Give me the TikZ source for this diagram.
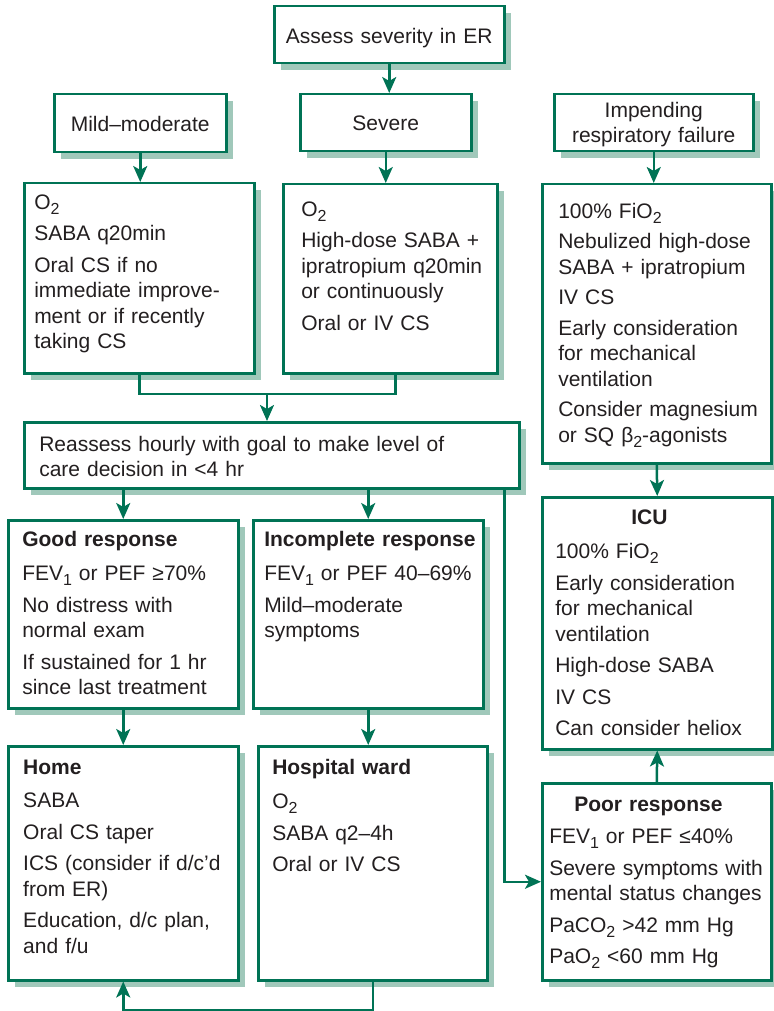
\documentclass[tikz,border=0pt]{standalone}
\usepackage{fontspec}
\setmainfont{Liberation Sans}
\usetikzlibrary{arrows.meta,shadows}

\definecolor{fgreen}{RGB}{0,115,85}
\definecolor{shgreen}{RGB}{160,200,186}
\definecolor{ink}{RGB}{35,31,32}

\newcommand{\lowsub}[1]{\raisebox{-5pt}{\fontsize{16}{16}\selectfont #1}}

\tikzset{
  box/.style={draw=fgreen, line width=2.5pt, fill=white, anchor=north west,
    inner sep=0pt, text=ink, font=\fontsize{21}{25.5}\selectfont,
    general shadow={fill=shgreen, shadow xshift=7pt, shadow yshift=-7pt}},
  headbox/.style={box, align=center},
  stepsbox/.style={box, align=left},
  boxdim/.style n args={3}{text width=#1pt, text height=#2pt, text depth=#3pt},
  wire/.style={draw=fgreen, line width=2.5pt},
  arr/.style={wire, -{Stealth[length=16pt, width=14pt, inset=4pt]}}
}

\begin{document}
\begin{tikzpicture}[x=1pt, y=-1pt]
  \useasboundingbox (0,0) rectangle (773,1011);

  % Severity levels
  \node[headbox, boxdim={230}{37}{20}] (assess) at (273,5) {Assess severity in ER};
  \node[headbox, boxdim={172}{37}{21}] (mild) at (53,93) {Mild--moderate};
  \node[headbox, boxdim={171}{36}{21}] (severe) at (299,93) {Severe};
  \node[headbox, boxdim={199}{23}{34}] (impend) at (553,93) {Impending\\respiratory failure};

  % First treatment
  \node[stepsbox, boxdim={230}{26}{164}] (mildtx) at (23,182) {\leftskip=10pt
    O\lowsub{2}\\[6pt]
    SABA q20min\\[6pt]
    Oral CS if no\\immediate improve-\\ment or if recently\\taking CS\par};
  \node[stepsbox, boxdim={214}{32}{157}] (severetx) at (282,183) {\leftskip=18pt
    O\lowsub{2}\\[6pt]
    High-dose SABA +\\ipratropium q20min\\or continuously\\[6pt]
    Oral or IV CS\par};
  \node[stepsbox, boxdim={229}{34}{245}] (impendtx) at (541,183) {\leftskip=16pt
    100\% FiO\lowsub{2}\\[5pt]
    Nebulized high-dose\\SABA + ipratropium\\[5pt]
    IV CS\\[5pt]
    Early consideration\\for mechanical\\ventilation\\[5pt]
    Consider magnesium\\or SQ β\lowsub{2}-agonists\par};

  % Reassessment
  \node[stepsbox, boxdim={495}{29}{37}] (reassess) at (23,421) {\leftskip=15pt
    Reassess hourly with goal to make level of\\care decision in <4 hr\par};

  % Response to treatment
  \node[stepsbox, boxdim={230}{26}{162}] (good) at (7,519) {\leftskip=14pt
    \textbf{Good response}\\[9pt]
    FEV\lowsub{1} or PEF ≥70\%\\[6pt]
    No distress with\\normal exam\\[6pt]
    If sustained for 1 hr\\since last treatment\par};
  \node[stepsbox, boxdim={230}{26}{162}] (incomplete) at (252,519) {\leftskip=11pt
    \textbf{Incomplete response}\\[9pt]
    FEV\lowsub{1} or PEF 40--69\%\\[6pt]
    Mild--moderate\\symptoms\par};
  \node[stepsbox, boxdim={229}{28}{169}] (poor) at (541,782) {\leftskip=7pt
    \hspace*{25pt}\textbf{Poor response}\\[7pt]
    FEV\lowsub{1} or PEF ≤40\%\\[6pt]
    Severe symptoms with\\mental status changes\\[6pt]
    PaCO\lowsub{2} >42 mm Hg\\[6pt]
    PaO\lowsub{2} <60 mm Hg\par};

  % Level of care
  \node[stepsbox, boxdim={230}{27}{225}] (icu) at (541,496) {\leftskip=13pt
    \hspace*{76pt}\textbf{ICU}\\[9pt]
    100\% FiO\lowsub{2}\\[6pt]
    Early consideration\\for mechanical\\ventilation\\[6pt]
    High-dose SABA\\[6pt]
    IV CS\\[6pt]
    Can consider heliox\par};
  \node[stepsbox, boxdim={230}{28}{206}] (home) at (7,745) {\leftskip=15pt
    \textbf{Home}\\[8pt]
    SABA\\[6pt]
    Oral CS taper\\[6pt]
    ICS (consider if d/c’d\\from ER)\\[6pt]
    Education, d/c plan,\\and f/u\par};
  \node[stepsbox, boxdim={229}{28}{206}] (ward) at (257,745) {\leftskip=14pt
    \textbf{Hospital ward}\\[9pt]
    O\lowsub{2}\\[6pt]
    SABA q2--4h\\[6pt]
    Oral or IV CS\par};

  % Connectors
  \draw[arr] (assess.south) -- (assess.south |- severe.north);
  \draw[arr] (mild.south) -- (mild.south |- mildtx.north);
  \draw[arr] (severe.south) -- (severe.south |- severetx.north);
  \draw[arr] (impend.south) -- (impend.south |- impendtx.north);
  \coordinate (join) at (267,394);
  \draw[wire] (mildtx.south) |- (join) -| ([xshift=5pt]severetx.south);
  \draw[arr] (join) -- (join |- reassess.north);
  \draw[arr] (good.north |- reassess.south) -- (good.north);
  \draw[arr] (incomplete.north |- reassess.south) -- (incomplete.north);
  \draw[arr] ([xshift=-16pt]reassess.south east) |- (poor.west);
  \draw[arr] (impendtx.south) -- (icu.north);
  \draw[arr] (poor.north) -- (icu.south);
  \draw[arr] (good.south) -- (home.north);
  \draw[arr] (incomplete.south) -- (incomplete.south |- ward.north);
  \draw[arr] (ward.south) -- ++(0,29) -| (home.south);
\end{tikzpicture}
\end{document}
